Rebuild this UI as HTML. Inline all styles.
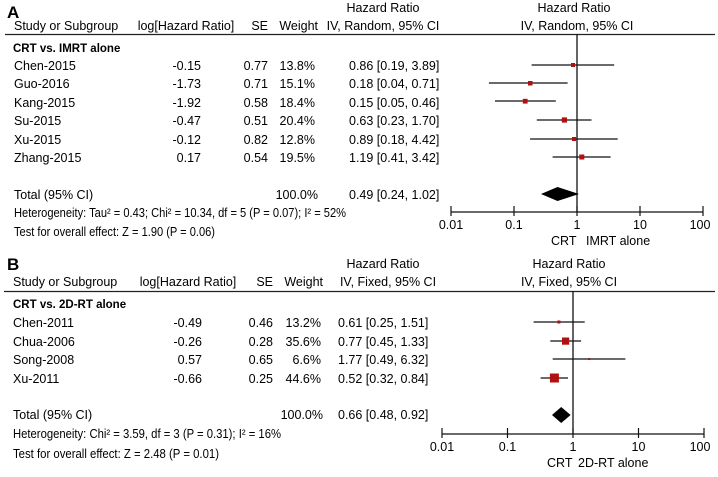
<!DOCTYPE html>
<html><head><meta charset="utf-8"><style>
body{margin:0;background:#fff}
svg text{font-family:"Liberation Sans",sans-serif;font-size:12.5px;fill:#000}
.b{font-weight:bold}
</style></head><body>
<svg width="718" height="472" viewBox="0 0 718 472" xmlns="http://www.w3.org/2000/svg">
<!-- Panel A -->
<text x="7" y="18" class="b" style="font-size:17px">A</text>
<text x="383" y="12" text-anchor="middle">Hazard Ratio</text>
<text x="574" y="12" text-anchor="middle">Hazard Ratio</text>
<text x="14" y="30">Study or Subgroup</text>
<text x="186" y="30" text-anchor="middle">log[Hazard Ratio]</text>
<text x="268" y="30" text-anchor="end">SE</text>
<text x="318" y="30" text-anchor="end">Weight</text>
<text x="383" y="30" text-anchor="middle">IV, Random, 95% CI</text>
<text x="577" y="30" text-anchor="middle">IV, Random, 95% CI</text>
<line x1="5" y1="34.5" x2="715" y2="34.5" stroke="#222" stroke-width="1.2"/>
<text x="13" y="52" class="b" style="font-size:11.5px">CRT vs. IMRT alone</text>
<g>
<text x="14" y="70">Chen-2015</text><text x="201" y="70" text-anchor="end">-0.15</text><text x="268" y="70" text-anchor="end">0.77</text><text x="315" y="70" text-anchor="end">13.8%</text><text x="349" y="70">0.86 [0.19, 3.89]</text>
<text x="14" y="88">Guo-2016</text><text x="201" y="88" text-anchor="end">-1.73</text><text x="268" y="88" text-anchor="end">0.71</text><text x="315" y="88" text-anchor="end">15.1%</text><text x="349" y="88">0.18 [0.04, 0.71]</text>
<text x="14" y="107">Kang-2015</text><text x="201" y="107" text-anchor="end">-1.92</text><text x="268" y="107" text-anchor="end">0.58</text><text x="315" y="107" text-anchor="end">18.4%</text><text x="349" y="107">0.15 [0.05, 0.46]</text>
<text x="14" y="125">Su-2015</text><text x="201" y="125" text-anchor="end">-0.47</text><text x="268" y="125" text-anchor="end">0.51</text><text x="315" y="125" text-anchor="end">20.4%</text><text x="349" y="125">0.63 [0.23, 1.70]</text>
<text x="14" y="144">Xu-2015</text><text x="201" y="144" text-anchor="end">-0.12</text><text x="268" y="144" text-anchor="end">0.82</text><text x="315" y="144" text-anchor="end">12.8%</text><text x="349" y="144">0.89 [0.18, 4.42]</text>
<text x="14" y="162">Zhang-2015</text><text x="201" y="162" text-anchor="end">0.17</text><text x="268" y="162" text-anchor="end">0.54</text><text x="315" y="162" text-anchor="end">19.5%</text><text x="349" y="162">1.19 [0.41, 3.42]</text>
<text x="14" y="199">Total (95% CI)</text><text x="318" y="199" text-anchor="end">100.0%</text><text x="349" y="199">0.49 [0.24, 1.02]</text>
<text x="14" y="217" textLength="332" lengthAdjust="spacingAndGlyphs">Heterogeneity: Tau² = 0.43; Chi² = 10.34, df = 5 (P = 0.07); I² = 52%</text>
<text x="14" y="236" textLength="201" lengthAdjust="spacingAndGlyphs">Test for overall effect: Z = 1.90 (P = 0.06)</text>
</g>
<line x1="577" y1="34" x2="577" y2="212" stroke="#111" stroke-width="1.3"/>
<g stroke="#111" stroke-width="1.2">
<line x1="531.6" y1="65" x2="614.2" y2="65"/>
<line x1="488.9" y1="83" x2="567.6" y2="83"/>
<line x1="495" y1="101" x2="555.8" y2="101"/>
<line x1="536.8" y1="120" x2="591.5" y2="120"/>
<line x1="530.1" y1="139" x2="617.7" y2="139"/>
<line x1="552.6" y1="157" x2="610.6" y2="157"/>
<line x1="451" y1="212" x2="703" y2="212"/>
<line x1="451" y1="206" x2="451" y2="216"/><line x1="514" y1="206" x2="514" y2="216"/><line x1="577" y1="206" x2="577" y2="216"/><line x1="640" y1="206" x2="640" y2="216"/><line x1="703" y1="206" x2="703" y2="216"/>
</g>
<g fill="#b01010">
<rect x="571" y="63" width="4" height="4"/>
<rect x="528" y="81" width="4.5" height="4.5"/>
<rect x="522.8" y="98.8" width="4.8" height="4.8"/>
<rect x="561.8" y="117.4" width="5.2" height="5.2"/>
<rect x="572" y="137" width="4" height="4"/>
<rect x="579.3" y="154.5" width="5" height="5"/>
</g>
<polygon points="541,194 557.5,187 579,194 557.5,201" fill="#000"/>
<text x="451" y="229" text-anchor="middle">0.01</text><text x="514" y="229" text-anchor="middle">0.1</text><text x="577" y="229" text-anchor="middle">1</text><text x="640" y="229" text-anchor="middle">10</text><text x="700" y="229" text-anchor="middle">100</text>
<text x="551" y="245">CRT</text><text x="586" y="245">IMRT alone</text>

<!-- Panel B -->
<text x="7" y="270" class="b" style="font-size:17px">B</text>
<text x="383" y="268" text-anchor="middle">Hazard Ratio</text>
<text x="569" y="268" text-anchor="middle">Hazard Ratio</text>
<text x="13" y="286">Study or Subgroup</text>
<text x="188" y="286" text-anchor="middle">log[Hazard Ratio]</text>
<text x="273" y="286" text-anchor="end">SE</text>
<text x="323" y="286" text-anchor="end">Weight</text>
<text x="388" y="286" text-anchor="middle">IV, Fixed, 95% CI</text>
<text x="569" y="286" text-anchor="middle">IV, Fixed, 95% CI</text>
<line x1="4" y1="291.5" x2="715" y2="291.5" stroke="#222" stroke-width="1.2"/>
<text x="13" y="308" class="b" style="font-size:11.5px">CRT vs. 2D-RT alone</text>
<text x="13" y="327">Chen-2011</text><text x="202" y="327" text-anchor="end">-0.49</text><text x="273" y="327" text-anchor="end">0.46</text><text x="321" y="327" text-anchor="end">13.2%</text><text x="338" y="327">0.61 [0.25, 1.51]</text>
<text x="13" y="346">Chua-2006</text><text x="202" y="346" text-anchor="end">-0.26</text><text x="273" y="346" text-anchor="end">0.28</text><text x="321" y="346" text-anchor="end">35.6%</text><text x="338" y="346">0.77 [0.45, 1.33]</text>
<text x="13" y="364">Song-2008</text><text x="202" y="364" text-anchor="end">0.57</text><text x="273" y="364" text-anchor="end">0.65</text><text x="321" y="364" text-anchor="end">6.6%</text><text x="338" y="364">1.77 [0.49, 6.32]</text>
<text x="13" y="383">Xu-2011</text><text x="202" y="383" text-anchor="end">-0.66</text><text x="273" y="383" text-anchor="end">0.25</text><text x="321" y="383" text-anchor="end">44.6%</text><text x="338" y="383">0.52 [0.32, 0.84]</text>
<text x="13" y="419">Total (95% CI)</text><text x="323" y="419" text-anchor="end">100.0%</text><text x="338" y="419">0.66 [0.48, 0.92]</text>
<text x="13" y="438" textLength="268" lengthAdjust="spacingAndGlyphs">Heterogeneity: Chi² = 3.59, df = 3 (P = 0.31); I² = 16%</text>
<text x="13" y="458" textLength="206" lengthAdjust="spacingAndGlyphs">Test for overall effect: Z = 2.48 (P = 0.01)</text>
<line x1="573" y1="291" x2="573" y2="434" stroke="#111" stroke-width="1.3"/>
<g stroke="#111" stroke-width="1.2">
<line x1="533.6" y1="322" x2="584.7" y2="322"/>
<line x1="550.3" y1="341" x2="581.1" y2="341"/>
<line x1="552.7" y1="359" x2="625.4" y2="359"/>
<line x1="540.6" y1="378" x2="568" y2="378"/>
<line x1="442" y1="434" x2="704" y2="434"/>
<line x1="442" y1="428" x2="442" y2="438"/><line x1="507.5" y1="428" x2="507.5" y2="438"/><line x1="573" y1="428" x2="573" y2="438"/><line x1="638.5" y1="428" x2="638.5" y2="438"/><line x1="704" y1="428" x2="704" y2="438"/>
</g>
<g fill="#b01010">
<rect x="557.4" y="320.5" width="3" height="3"/>
<rect x="562" y="337.5" width="7.2" height="7.2"/>
<rect x="588.2" y="358" width="2" height="2"/>
<rect x="549.9" y="373.5" width="9" height="9"/>
</g>
<polygon points="552,415 561.2,407 570.6,415 561.2,423" fill="#000"/>
<text x="442" y="451" text-anchor="middle">0.01</text><text x="507.5" y="451" text-anchor="middle">0.1</text><text x="573" y="451" text-anchor="middle">1</text><text x="638.5" y="451" text-anchor="middle">10</text><text x="700" y="451" text-anchor="middle">100</text>
<text x="547" y="467">CRT</text><text x="578" y="467">2D-RT alone</text>
</svg>
</body></html>
